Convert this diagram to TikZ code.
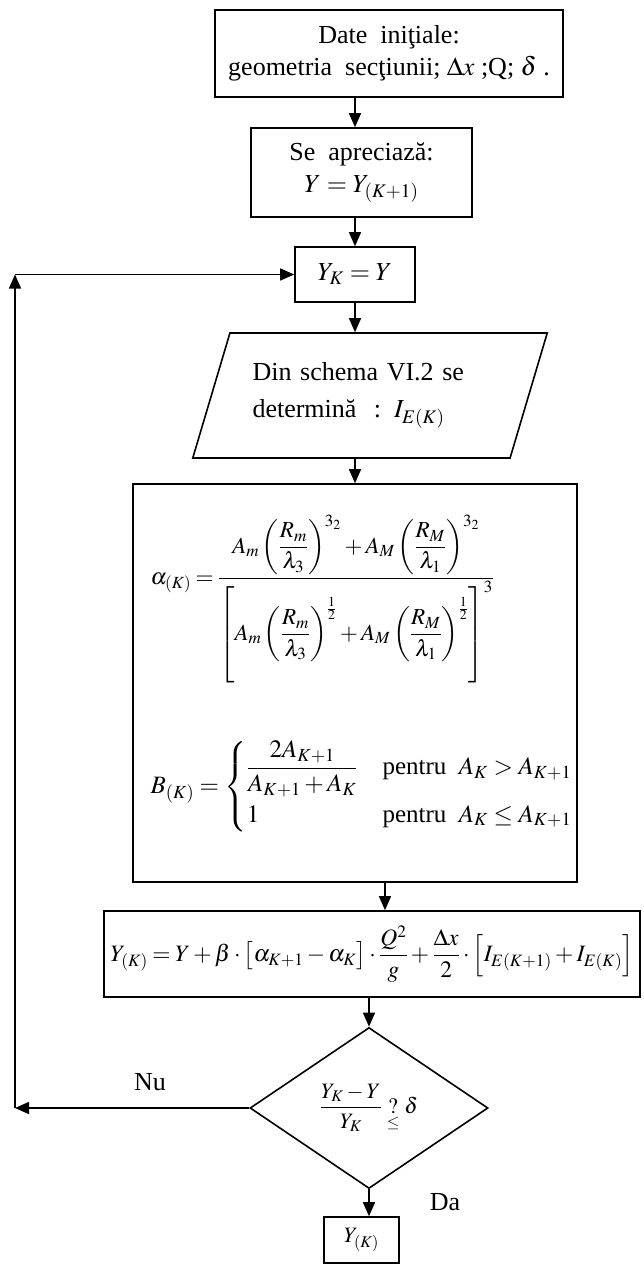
\documentclass[tikz,border=0pt]{standalone}
\usepackage{amsmath}
\usepackage{mathptmx}
\usepackage{fontspec}
\setmainfont{Liberation Serif}
\usetikzlibrary{shapes.geometric, arrows.meta}
\newcommand{\tightmath}{\medmuskip=2.5mu\relax\thickmuskip=3.5mu\relax}

\begin{document}
\begin{tikzpicture}[
    x=1pt, y=-1pt, >={Triangle[length=14pt,width=12pt]}, line width=1.4pt,
    bnode/.style={rectangle, draw, line width=1.6pt, align=center, inner sep=2pt, font=\fontsize{26}{32}\selectfont},
    pnode/.style={trapezium, trapezium left angle=66, trapezium right angle=114, trapezium stretches=true, draw, line width=1.6pt, align=left, font=\fontsize{26}{37}\selectfont},
    dnode/.style={diamond, draw, line width=1.6pt, inner sep=0pt, font=\fontsize{22}{26}\selectfont},
    fnode/.style={inner sep=0pt, font=\fontsize{23}{28}\selectfont},
  ]
  \useasboundingbox (0,0) rectangle (643,1267);
  \node[bnode, minimum width=348pt, minimum height=87pt] (init) at (389,53.5) {Date\ \ iniţiale:\\ geometria\ \ secţiunii; $\Delta x$ ;Q; $\delta$ .};
  \node[bnode, minimum width=221pt, minimum height=89pt] (apr)  at (361.5,172.5) {Se\ \ apreciază:\\ $Y = Y_{(K+1)}$};
  \node[bnode, minimum width=120pt, minimum height=55pt] (yk)   at (355,274.5) {$Y_K = Y$};
  \node[pnode, minimum width=355pt, minimum height=125pt, text width=235pt] (par) at (370,395.5) {Din schema VI.2 se\\ determină\ \ : $I_{E(K)}$};
  \node[bnode, minimum width=444pt, minimum height=398pt] (big)  at (355,683) {};
  \node[fnode, anchor=base west] (alpha) at (150,584) {$\tightmath\alpha_{(K)} = \dfrac{A_m\left(\dfrac{R_m}{\lambda_3}\right)^{3_2} + A_M\left(\dfrac{R_M}{\lambda_1}\right)^{3_2}}{\left[\rule[-40pt]{0pt}{92pt}A_m\left(\dfrac{R_m}{\lambda_3}\right)^{\frac{1}{2}} + A_M\left(\dfrac{R_M}{\lambda_1}\right)^{\frac{1}{2}}\right]^3}$};
  \node[fnode, anchor=base west, font=\fontsize{25}{30}\selectfont] (beta) at (150,793) {$B_{(K)} = \begin{cases} \dfrac{2A_{K+1}}{A_{K+1}+A_K} & \text{pentru}\ \ A_K > A_{K+1}\\[10pt] 1 & \text{pentru}\ \ A_K \le A_{K+1}\end{cases}$};
  \node[bnode, minimum width=536pt, minimum height=86pt, font=\fontsize{23.5}{28}\selectfont] (form) at (372,954) {$\tightmath Y_{(K)} = Y + \beta\cdot\bigl[\alpha_{K+1}-\alpha_K\bigr]\cdot\dfrac{Q^2}{g} + \dfrac{\Delta x}{2}\cdot\Bigl[I_{E(K+1)}+I_{E(K)}\Bigr]$};
  \node[dnode, minimum width=238pt, minimum height=161pt] (dec) at (369,1108) {$\dfrac{Y_K - Y}{Y_K}\mathrel{\underset{\le}{?}}\delta$};
  \node[bnode, minimum width=75pt, minimum height=46pt, font=\fontsize{22}{26}\selectfont] (res) at (361.5,1240) {$Y_{(K)}$};
  \node[font=\fontsize{26}{30}\selectfont] (nu) at (150,1082) {Nu};
  \node[font=\fontsize{26}{30}\selectfont] (da) at (445,1202) {Da};
  \coordinate (lx) at (15,274.5);
  \draw[->] (init.south -| yk) -- (apr.north -| yk);
  \draw[->] (apr.south -| yk) -- (yk.north);
  \draw[->] (yk.south) -- (yk.south |- par.north);
  \draw[->] (par.south -| yk) -- (big.north);
  \draw[->] ([xshift=30pt]big.south) -- ([xshift=30pt]big.south |- form.north);
  \draw[->] (form.south -| dec.north) -- (dec.north);
  \draw[->] (dec.south) -- (dec.south |- res.north);
  % loop back
  \draw[->] (dec.west) -- (dec.west -| lx);
  \draw[->] (dec.west -| lx) -- (lx);
  \draw[->] (lx) -- (yk.west);
\end{tikzpicture}
\end{document}
